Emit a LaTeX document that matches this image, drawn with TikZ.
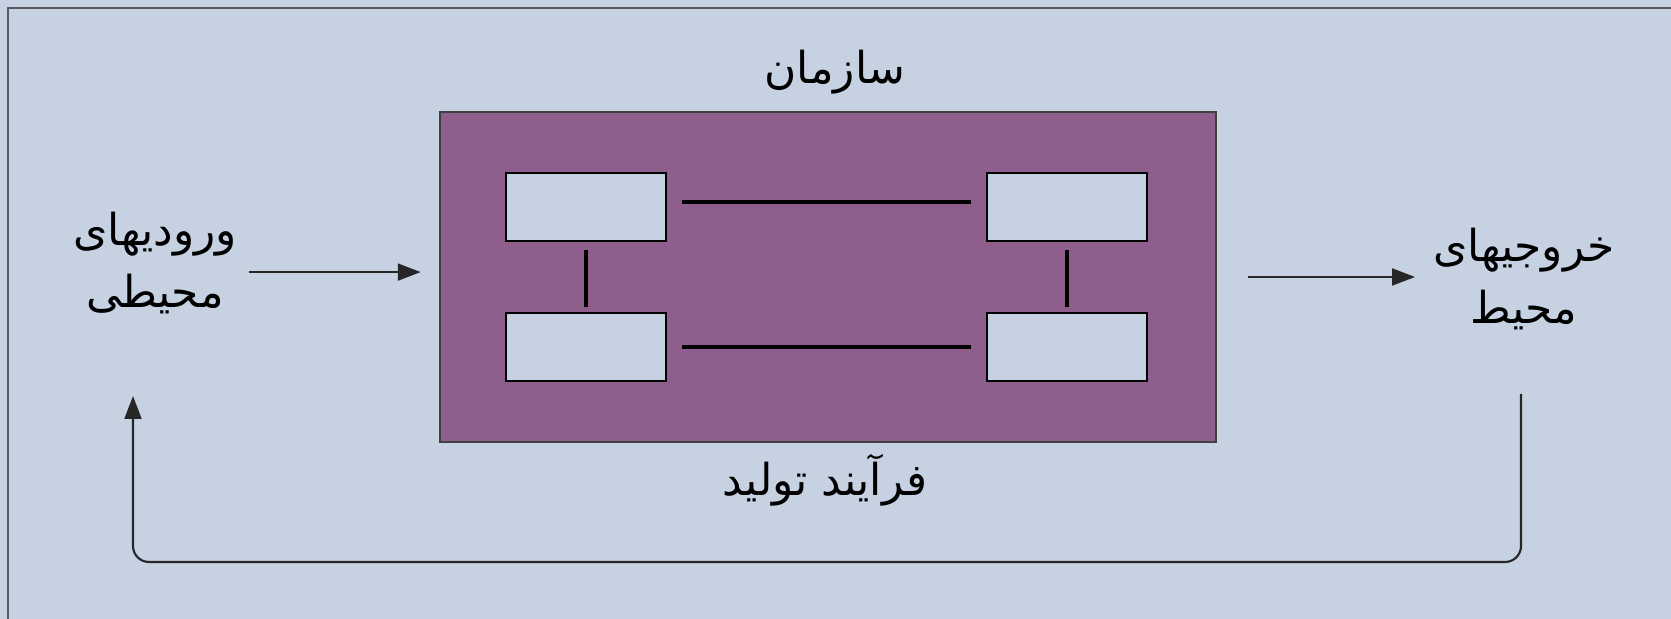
\documentclass[tikz,border=0pt]{standalone}
\usepackage{fontspec}
\newfontfamily\arabicfont[Script=Arabic]{DejaVu Sans}
\TeXXeTstate=1
\usetikzlibrary{arrows.meta}
\definecolor{paleblue}{RGB}{198,209,226}
\definecolor{plum}{RGB}{142,95,141}
\definecolor{frameline}{RGB}{90,90,96}

\tikzset{
  farsi/.style={font=\arabicfont\fontsize{12.5}{17.5}\selectfont, align=center},
  orgbox/.style={draw=black!75, fill=plum, line width=0.6pt, minimum width=7.76cm, minimum height=3.30cm},
  unit/.style={draw=black, fill=paleblue, line width=0.6pt, minimum width=1.60cm, minimum height=0.68cm, inner sep=0pt},
  link/.style={line width=1.1pt, draw=black},
  arr/.style={-{Triangle[length=6.5pt,width=4.8pt]}, line width=0.6pt, draw=black!85}
}

\begin{document}
\begin{tikzpicture}[x=0.01cm, y=-0.01cm]

  % background and frame
  \fill[paleblue] (0,0) rectangle (1671,619);
  \useasboundingbox (0,0) rectangle (1671,619);
  \draw[frameline, line width=0.7pt] (1671,8) -- (8,8) -- (8,619);

  % organisation
  \node[orgbox] (org) at (828,277) {};
  \node[unit] (tl) at (586,207) {};
  \node[unit] (tr) at (1067,207) {};
  \node[unit] (bl) at (586,347) {};
  \node[unit] (br) at (1067,347) {};

  \draw[link, shorten <=0.15cm, shorten >=0.15cm, transform canvas={yshift=1.4pt}] (tl) -- (tr);
  \draw[link, shorten <=0.15cm, shorten >=0.15cm] (bl) -- (br);
  \draw[link, shorten <=0.08cm, shorten >=0.05cm] (tl) -- (bl);
  \draw[link, shorten <=0.08cm, shorten >=0.05cm] (tr) -- (br);

  % texts
  \node[farsi] (title) at (835,72) {\beginR سازمان\endR};
  \node[farsi] (proc) at (825,480) {\beginR فرآیند تولید\endR};
  \node[farsi] (inp) at (155,263) {\beginR ورودیهای\endR\\ \beginR محیطی\endR};
  \node[farsi] (outp) at (1524,279) {\beginR خروجیهای\endR\\ \beginR محیط\endR};

  % flows
  \draw[arr, shorten >=0.18cm, transform canvas={yshift=1.4pt}] (inp.east |- org.west) -- (org.west);
  \draw[arr, shorten <=0.31cm, shorten >=0.06cm] (org.east) -- (outp.west |- org.east);

  % feedback
  \coordinate (fbout) at (1521,394);
  \coordinate (fbin) at (133,396);
  \coordinate (fbbase) at (828,562);
  \draw[arr, rounded corners=0.16cm] (fbout) |- (fbin |- fbbase) -- (fbin);

\end{tikzpicture}
\end{document}
